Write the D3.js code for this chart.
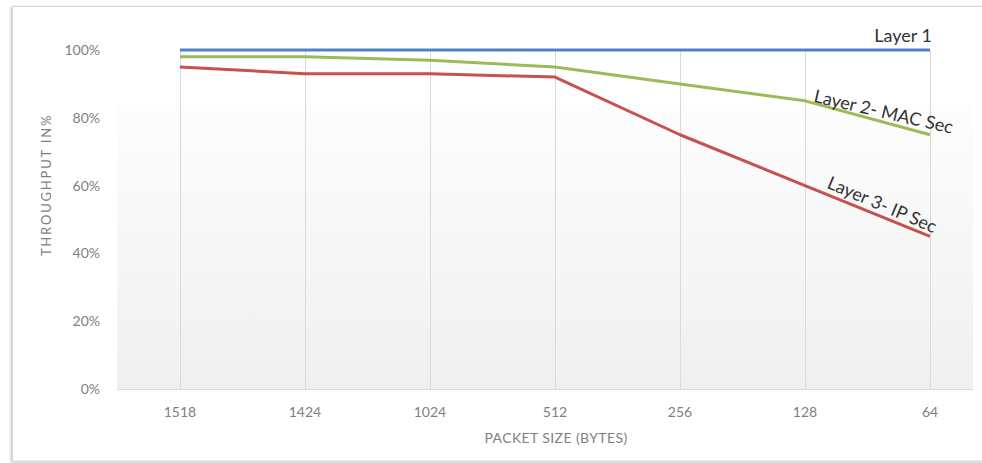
<!DOCTYPE html>
<html>
<head>
<meta charset="utf-8">
<script src="https://cdn.jsdelivr.net/npm/d3@7"></script>
<style>
  body { margin: 0; background: #fff; }
  svg { display: block; }
  text { font-family: Lato, "Open Sans", sans-serif; }
</style>
</head>
<body>
<svg id="chart" width="982" height="463"></svg>
<script>
// Throughput by packet size for the three security layers
const packetSizes = ["1518", "1424", "1024", "512", "256", "128", "64"];
const layer1 = [100, 100, 100, 100, 100, 100, 100];
const layer2 = [98, 98, 97, 95, 90, 85, 75];
const layer3 = [95, 93, 93, 92, 75, 60, 45];
const yTicks = [0, 20, 40, 60, 80, 100];
const seriesNames = ["Layer 1", "Layer 2- MAC Sec", "Layer 3- IP Sec"];

const svg = d3.select("#chart");

const x = d3.scalePoint().domain(packetSizes).range([180, 930]);
const y = d3.scaleLinear().domain([0, 100]).range([389, 50]);
const plotLeft = 117, plotRight = 973;

// card frame with a soft shadow
const defs = svg.append("defs");
const sh = defs.append("filter").attr("id", "shadow")
  .attr("x", "-5%").attr("y", "-5%").attr("width", "110%").attr("height", "110%");
sh.append("feDropShadow").attr("dx", -1).attr("dy", 1).attr("stdDeviation", 1.5)
  .attr("flood-color", "#000").attr("flood-opacity", 0.25);

svg.append("rect").attr("x", 12.5).attr("y", 6.5).attr("width", 1000).attr("height", 454.5)
  .attr("fill", "#fff").attr("stroke", "#d6d6d6").attr("filter", "url(#shadow)");

// plot-area background gradient
const grad = defs.append("linearGradient").attr("id", "bg")
  .attr("x1", 0).attr("y1", 0).attr("x2", 0).attr("y2", 1);
grad.append("stop").attr("offset", "0%").attr("stop-color", "#fdfdfd");
grad.append("stop").attr("offset", "100%").attr("stop-color", "#f0f0f0");
svg.append("rect").attr("x", plotLeft).attr("y", 103)
  .attr("width", plotRight - plotLeft).attr("height", y(0) - 103)
  .attr("fill", "url(#bg)");

// vertical gridlines at each category
svg.append("g").selectAll("line").data(packetSizes).join("line")
  .attr("x1", d => x(d) + 0.5).attr("x2", d => x(d) + 0.5)
  .attr("y1", y(100)).attr("y2", y(0))
  .attr("stroke", "#dadada").attr("stroke-width", 1);

// baseline
svg.append("line").attr("x1", plotLeft).attr("x2", plotRight)
  .attr("y1", y(0) + 0.5).attr("y2", y(0) + 0.5)
  .attr("stroke", "#d9d9d9");

// y tick labels
svg.append("g").selectAll("text").data(yTicks).join("text")
  .attr("x", 100).attr("y", d => y(d)).attr("dy", "0.35em")
  .attr("text-anchor", "end").attr("font-size", 14).attr("fill", "#7f7f7f")
  .text(d => d + "%");

// x tick labels
svg.append("g").selectAll("text").data(packetSizes).join("text")
  .attr("x", d => x(d)).attr("y", 412).attr("dy", "0.35em")
  .attr("text-anchor", "middle").attr("font-size", 14).attr("fill", "#7f7f7f")
  .text(d => d);

// axis titles
svg.append("text").attr("transform", "translate(51,185) rotate(-90)")
  .attr("text-anchor", "middle").attr("font-size", 13).attr("fill", "#7f7f7f")
  .attr("letter-spacing", 1.8)
  .text("THROUGHPUT IN%");
svg.append("text").attr("x", 556).attr("y", 443)
  .attr("text-anchor", "middle").attr("font-size", 14).attr("fill", "#7f7f7f")
  .attr("letter-spacing", 0.4)
  .text("PACKET SIZE (BYTES)");

// series lines
const line = d3.line().x((d, i) => x(packetSizes[i])).y(d => y(d));
const series = [
  { name: seriesNames[0], values: layer1, color: "#4f81c4" },
  { name: seriesNames[1], values: layer2, color: "#9bbb59" },
  { name: seriesNames[2], values: layer3, color: "#c8504f" }
];
svg.append("g").selectAll("path").data(series).join("path")
  .attr("d", d => line(d.values))
  .attr("fill", "none").attr("stroke", d => d.color)
  .attr("stroke-width", 3).attr("stroke-linejoin", "round");

// series labels placed along the lines
const last = packetSizes.length - 1;
svg.append("text")
  .attr("x", x(packetSizes[last]) + 2).attr("y", y(layer1[last]) - 8)
  .attr("text-anchor", "end").attr("font-size", 18).attr("fill", "#333")
  .text(seriesNames[0]);
svg.append("text")
  .attr("transform", `translate(${x(packetSizes[5]) + 8},${y(layer2[5]) + 1}) rotate(13)`)
  .attr("font-size", 18).attr("fill", "#333")
  .text(seriesNames[1]);
svg.append("text")
  .attr("transform", `translate(${x(packetSizes[5]) + 21},${y(layer3[5]) + 2}) rotate(23)`)
  .attr("font-size", 18).attr("fill", "#333")
  .text(seriesNames[2]);
</script>
</body>
</html>
